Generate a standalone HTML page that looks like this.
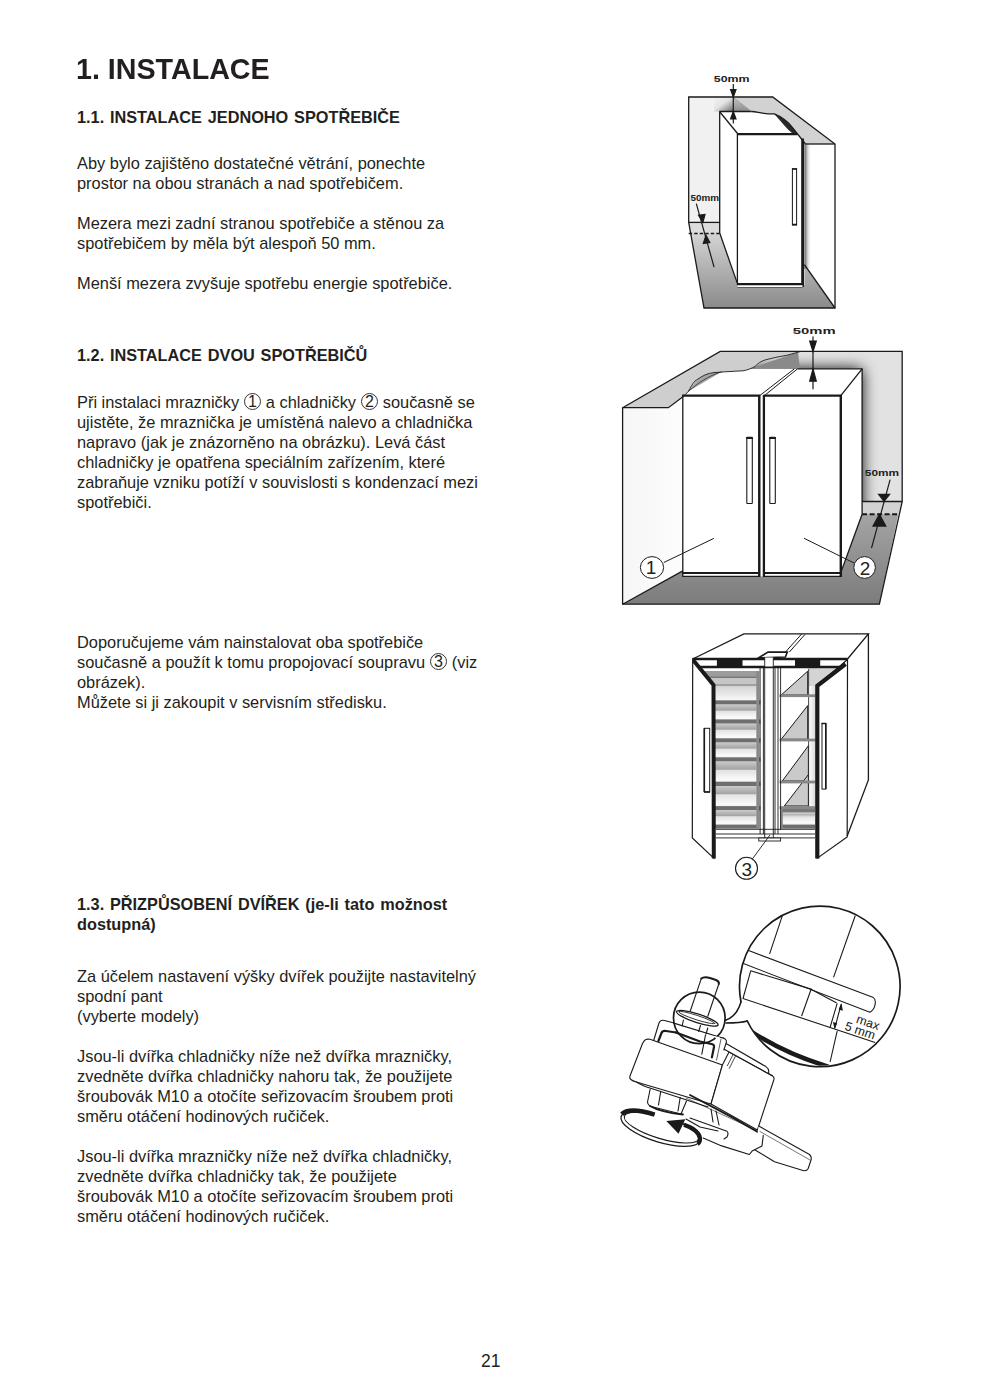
<!DOCTYPE html>
<html><head><meta charset="utf-8">
<style>
html,body{margin:0;padding:0;background:#fff;}
body{width:984px;height:1389px;position:relative;overflow:hidden;font-family:"Liberation Sans",sans-serif;color:#231f20;}
.t{position:absolute;left:77px;white-space:nowrap;font-size:16.4px;line-height:20px;}
.h1{position:absolute;left:76px;white-space:nowrap;font-size:30px;font-weight:bold;line-height:36px;transform:scaleX(0.955);transform-origin:0 0;}
.h2{position:absolute;left:77px;white-space:nowrap;font-size:16.3px;word-spacing:1.3px;font-weight:bold;line-height:20px;}
.c{font-size:16px;display:inline-block;width:17.6px;height:17.6px;border:1px solid #333;border-radius:50%;box-sizing:border-box;text-align:center;line-height:16.9px;vertical-align:baseline;position:relative;top:-1.5px;}
svg{position:absolute;}
</style></head><body>
<div class="h1" style="top:51px">1. INSTALACE</div>
<div class="h2" style="top:106.8px">1.1. INSTALACE JEDNOHO SPOTŘEBIČE</div>
<div class="t" style="top:153px">Aby bylo zajištěno dostatečné větrání, ponechte<br>prostor na obou stranách a nad spotřebičem.<br><br>Mezera mezi zadní stranou spotřebiče a stěnou za<br>spotřebičem by měla být alespoň 50 mm.<br><br>Menší mezera zvyšuje spotřebu energie spotřebiče.</div>
<div class="h2" style="top:344.8px">1.2. INSTALACE DVOU SPOTŘEBIČŮ</div>
<div class="t" style="top:392px">Při instalaci mrazničky <span class="c">1</span> a chladničky <span class="c">2</span> současně se<br>ujistěte, že mraznička je umístěná nalevo a chladnička<br>napravo (jak je znázorněno na obrázku). Levá část<br>chladničky je opatřena speciálním zařízením, které<br>zabraňuje vzniku potíží v souvislosti s kondenzací mezi<br>spotřebiči.</div>
<div class="t" style="top:632px">Doporučujeme vám nainstalovat oba spotřebiče<br>současně a použít k tomu propojovací soupravu <span class="c">3</span> (viz<br>obrázek).<br>Můžete si ji zakoupit v servisním středisku.</div>
<div class="h2" style="top:893.8px">1.3. PŘIZPŮSOBENÍ DVÍŘEK (je-li tato možnost<br>dostupná)</div>
<div class="t" style="top:966px">Za účelem nastavení výšky dvířek použijte nastavitelný<br>spodní pant<br>(vyberte modely)<br><br>Jsou-li dvířka chladničky níže než dvířka mrazničky,<br>zvedněte dvířka chladničky nahoru tak, že použijete<br>šroubovák M10 a otočíte seřizovacím šroubem proti<br>směru otáčení hodinových ručiček.<br><br>Jsou-li dvířka mrazničky níže než dvířka chladničky,<br>zvedněte dvířka chladničky tak, že použijete<br>šroubovák M10 a otočíte seřizovacím šroubem proti<br>směru otáčení hodinových ručiček.</div>
<div class="t" style="left:481px;top:1350.8px;font-size:17.5px;">21</div>
<svg id="art" style="left:0;top:0" width="984" height="1389" viewBox="0 0 984 1389">
<!-- illustration 1 -->
<defs>
<linearGradient id="fl1" x1="0" y1="0" x2="0" y2="1"><stop offset="0" stop-color="#d4d4d4"/><stop offset="1" stop-color="#8a8a8a"/></linearGradient>
<linearGradient id="sh1" x1="0" y1="0" x2="1" y2="0"><stop offset="0" stop-color="#555"/><stop offset="1" stop-color="#fff" stop-opacity="0"/></linearGradient>
<linearGradient id="cs1" x1="0" y1="0" x2="1" y2="1"><stop offset="0" stop-color="#f2f2f2"/><stop offset="0.45" stop-color="#e4e4e4"/><stop offset="1" stop-color="#6a6a6a"/></linearGradient>
<linearGradient id="cs1b" x1="0" y1="0" x2="0" y2="1"><stop offset="0" stop-color="#c4c4c4"/><stop offset="1" stop-color="#8c8c8c"/></linearGradient>
</defs>
<polygon points="688.7,97 720,97 720,222.4 688.7,222.4" fill="#f1f1f1"/>
<polygon points="714,97.5 733.4,97.5 733.4,111.5 714,111.5" fill="url(#cs1)"/>
<polygon points="733.4,97.5 751.5,111.5 733.4,111.5" fill="url(#cs1b)"/>
<polygon points="734,97.5 772.7,97 835,144 805.5,144 797.2,133.1 792.3,127.3 786,120 774.3,113.9 762,113 751.5,111.5" fill="#d2d2d2"/>
<path d="M774.3,113.9 C782,117 788,122 792.3,127.3 L797.2,133.4 L792.5,133.4 C786.5,128.5 781,121.5 774.3,113.9 Z" fill="#2a2a2a"/>
<polygon points="688.7,222.4 720,222.4 720,233.5 690.6,233.5" fill="#dcdcdc"/>
<polygon points="690.6,233.5 720,233.5 737.2,285 804.4,285 804.4,264.7 835,308 704,308" fill="url(#fl1)"/>
<rect x="804.4" y="144" width="7" height="125" fill="url(#sh1)"/>
<g fill="none" stroke="#1a1a1a" stroke-width="1.3">
<path d="M688.7,97 L772.7,97 L835,144 L835,308 L704,308 L688.7,222.4 Z"/>
<path d="M688.7,222.4 L720,222.4"/>
<path d="M688.7,233.5 L720,233.5" stroke-dasharray="3.5,2"/>
<path d="M719.7,111.5 L719.7,233 L737.2,283"/>
<path d="M719.5,111.5 L737.5,133.5"/>
<path d="M719.5,111.5 L751.5,111.5 C758,112 763,114 774.3,113.9 C782,117 788,122 792.3,127.3 L805.5,144"/>
<path d="M734,98 L751.5,111.5" stroke-width="0.6" stroke="#777"/>
<path d="M805.5,144 L835,144"/>
<path d="M804.4,264.7 L835,308"/>
<path d="M737.4,134 L737.4,285"/>
<path d="M737.5,287 L802.5,287" stroke-width="1"/>
<rect x="792.4" y="168.8" width="4.2" height="56" stroke-width="1"/>
</g>
<path d="M737,134.2 L797.5,134.2" stroke="#1a1a1a" stroke-width="2.2"/>
<path d="M802.6,138.5 L802.6,287" stroke="#1a1a1a" stroke-width="2.8"/>
<rect x="737.5" y="285" width="65" height="2" fill="#fff"/>
<path d="M737,284.2 L804,284.2" stroke="#1a1a1a" stroke-width="2.2"/>
<path d="M792,169 L797,169 M792,224.6 L797,224.6" stroke="#1a1a1a" stroke-width="1.6"/>
<!-- arrows -->
<g stroke="#1a1a1a" stroke-width="1.2" fill="#1a1a1a">
<path d="M733.3,84 L733.3,123.5" fill="none"/>
<path d="M733.3,97 L730.6,89.5 L736,89.5 Z"/>
<path d="M733.3,111.5 L730.6,119 L736,119 Z"/>
<path d="M696.3,203.7 L714.1,267.2" fill="none"/>
<path d="M702.9,222.2 L698.5,215.3 L705,214.5 Z"/>
<path d="M706,235.2 L709.8,242.6 L703.3,243.6 Z"/>
</g>
<g font-family="Liberation Sans" font-weight="bold" fill="#222" font-size="8.6">
<text x="713.8" y="82.2" textLength="35.8" lengthAdjust="spacingAndGlyphs">50mm</text>
<text x="690.6" y="201.2" textLength="28.5" lengthAdjust="spacingAndGlyphs">50mm</text>
</g>

<!-- illustration 2 -->
<defs>
<linearGradient id="fl2" x1="0" y1="0" x2="0" y2="1"><stop offset="0" stop-color="#a4a4a4"/><stop offset="1" stop-color="#7c7c7c"/></linearGradient>
<linearGradient id="bw2" x1="0" y1="0" x2="1" y2="0"><stop offset="0" stop-color="#6e6e6e"/><stop offset="0.45" stop-color="#d8d8d8"/><stop offset="1" stop-color="#ececec"/></linearGradient>
<linearGradient id="tw2" x1="0" y1="0" x2="0" y2="1"><stop offset="0" stop-color="#dedede"/><stop offset="1" stop-color="#8a8a8a"/></linearGradient>
<linearGradient id="lw2" x1="0" y1="0" x2="1" y2="0"><stop offset="0" stop-color="#f6f6f6"/><stop offset="1" stop-color="#fdfdfd"/></linearGradient>
</defs>
<polygon points="622.6,407.7 683,407.7 683,571 622.6,604.2" fill="url(#lw2)"/>
<clipPath id="bwc2"><polygon points="740,351.4 902.2,351.4 902.2,501.5 862.1,501.5 862.1,368.8 740,368.8"/></clipPath>
<filter id="bl6" x="-50%" y="-50%" width="200%" height="200%"><feGaussianBlur stdDeviation="7.5"/></filter>
<g clip-path="url(#bwc2)"><rect x="740" y="351.4" width="163" height="151" fill="#e2e2e2"/><rect x="700" y="369" width="162" height="200" fill="#000" filter="url(#bl6)"/></g>
<polygon points="750,368.8 798,352 800,368.8" fill="#8a8a8a"/>
<polygon points="622.6,407.7 720.2,351.4 800.7,351.4 786.5,355.4 764.4,360.2 755,366.5 749.1,369.5 743,370.8 724.8,371.8 714,372.6 706.5,374.1 697.3,379.5 688.2,391.6 683.6,396.2 668.4,407.7" fill="#cecece"/>
<polygon points="688.2,391.6 697.3,379.5 706.5,374.1 714,372.6 721.7,371.8" fill="#a6a6a6"/>
<polygon points="862.1,501.5 902.2,501.5 898.3,514.3 862.1,514.3" fill="#d2d2d2"/>
<polygon points="622.6,604.2 682.8,570.9 682.8,576.3 840.8,576.3 840.8,572.6 862.1,514.3 898.3,514.3 879.4,604.2" fill="url(#fl2)"/>
<rect x="683" y="573" width="158" height="3.3" fill="#fff"/>
<g fill="none" stroke="#1a1a1a" stroke-width="1.3">
<path d="M622.6,407.7 L720.2,351.4 L902.2,351.4 L902.2,501.5 L879.4,604.2 L622.6,604.2 Z"/>
<path d="M622.6,407.7 L668.4,407.7 L683.6,396.2"/>
<path d="M683.6,396.2 L688.2,391.6 C692,385 694,381 697.3,379.5 C702,376 708,373 714,372.6 L724.8,371.8 C732,371.5 738,371 743,370.8 C748,370 752,368 755,366.5 C758,363 761,361.5 764.4,360.2 C772,358 780,356.5 786.5,355.4 C792,354 797,352.5 800.7,351.4" stroke-width="0.9"/>
<path d="M688.2,391.6 C698,383 708,376 721.7,371.8" stroke-width="0.7"/>
<path d="M797.5,368.8 L862.1,368.8 L862.1,514.3 L840.8,572.6"/>
<path d="M840.8,395.6 L862.1,368.8"/>
<path d="M759.7,395.6 L794.4,368.8 M764.4,395.6 L797.5,368.8" stroke-width="1"/>
<path d="M862.1,501.5 L902.2,501.5"/>
<path d="M862.1,514.3 L898.3,514.3" stroke-dasharray="5,2.5" stroke-width="2"/>
<path d="M622.6,604.2 L682.8,570.9"/>
<path d="M682.8,395.6 L682.8,576.3 L759.2,576.3 L759.2,395.6"/>
<path d="M764.4,395.6 L764.4,576.3 L840.8,576.3 L840.8,395.6"/>
<rect x="746.8" y="437.3" width="5.5" height="66.2" stroke-width="1.1" rx="0.6"/>
<rect x="769.8" y="437.3" width="5.5" height="66.2" stroke-width="1.1" rx="0.6"/>
</g>
<path d="M682,395.6 L760,395.6 M763.6,395.6 L841.6,395.6 M682,573 L760,573 M763.6,573 L841.6,573" stroke="#1a1a1a" stroke-width="2.2"/>
<path d="M759.3,395 L759.3,577 M840.8,395 L840.8,577" stroke="#1a1a1a" stroke-width="2.4"/>
<path d="M763.8,395 L763.8,577" stroke="#1a1a1a" stroke-width="2.1"/>
<path d="M746.2,438 L752.8,438 M769.2,438 L775.8,438" stroke="#1a1a1a" stroke-width="2"/>
<!-- callouts -->
<g stroke="#1a1a1a" stroke-width="1" fill="#fff">
<path d="M663.8,562.5 L713.8,538.4" fill="none"/>
<path d="M804.1,538.3 L854.2,563.1" fill="none"/>
<ellipse cx="652" cy="567.5" rx="11.6" ry="10.9"/>
<ellipse cx="864.6" cy="567.5" rx="10.8" ry="10.9"/>
</g>
<g font-family="Liberation Sans" fill="#222" font-size="19" text-anchor="middle">
<text x="651" y="573.8">1</text>
<text x="865.1" y="574.6">2</text>
</g>
<!-- arrows -->
<g stroke="#1a1a1a" stroke-width="1.2" fill="#1a1a1a">
<path d="M813,336.5 L813,389.3" fill="none"/>
<path d="M813,351.5 L809.7,341 L816.3,341 Z"/>
<path d="M813,368.8 L809.7,381.2 L816.3,381.2 Z"/>
<path d="M890.1,479.7 L871.5,548.2" fill="none"/>
<path d="M884.1,501.3 L878.6,494.3 L889.6,494.3 Z"/>
<path d="M879.4,514.3 L873,526.1 L885.8,526.1 Z"/>
</g>
<g font-family="Liberation Sans" font-weight="bold" fill="#222" font-size="9.8">
<text x="792.8" y="334.2" textLength="42.8" lengthAdjust="spacingAndGlyphs">50mm</text>
<text x="864.8" y="476.2" textLength="34.3" lengthAdjust="spacingAndGlyphs">50mm</text>
</g>

<!-- illustration 3 -->
<defs>
<linearGradient id="dr3" x1="0" y1="0" x2="0" y2="1">
<stop offset="0" stop-color="#777"/><stop offset="0.16" stop-color="#777"/><stop offset="0.2" stop-color="#d4d4d4"/><stop offset="0.3" stop-color="#b4b4b4"/><stop offset="0.42" stop-color="#e4e4e4"/><stop offset="0.7" stop-color="#fafafa"/><stop offset="1" stop-color="#dcdcdc"/>
</linearGradient>
<linearGradient id="dg3" x1="0" y1="0" x2="0" y2="1"><stop offset="0" stop-color="#cacaca"/><stop offset="0.38" stop-color="#a4a4a4"/><stop offset="0.44" stop-color="#e2e2e2"/><stop offset="0.9" stop-color="#fbfbfb"/><stop offset="1" stop-color="#f0f0f0"/></linearGradient>
<linearGradient id="lg3" x1="0" y1="0" x2="0" y2="1"><stop offset="0" stop-color="#d6d6d6"/><stop offset="1" stop-color="#f8f8f8"/></linearGradient>
<linearGradient id="tp3" x1="0" y1="0" x2="0" y2="1"><stop offset="0" stop-color="#a8a8a8"/><stop offset="1" stop-color="#8c8c8c"/></linearGradient>
<linearGradient id="rs3" x1="0" y1="0" x2="1" y2="0"><stop offset="0" stop-color="#fff"/><stop offset="1" stop-color="#d8d8d8"/></linearGradient>
</defs>
<polygon points="692.7,659 743.9,633.8 868.4,633.8 868.4,780 847.2,836 847.2,659" fill="#fff"/>
<rect x="700" y="668.3" width="59.4" height="166" fill="#fff"/>
<rect x="700" y="671" width="57" height="5.2" fill="#9c9c9c"/>
<rect x="700" y="676.2" width="57" height="1.8" fill="#777"/>
<rect x="700" y="678" width="57" height="6" fill="#c6c6c6"/>
<rect x="700" y="684" width="57" height="2.5" fill="#a0a0a0"/>
<rect x="700" y="686.5" width="57" height="13.8" fill="url(#lg3)"/>
<rect x="715" y="700.3" width="45.5" height="4.3" fill="#6e6e6e"/>
<rect x="715" y="704.6" width="41.5" height="14.8" fill="url(#dg3)"/>
<rect x="715" y="719.4" width="45.5" height="4.3" fill="#6e6e6e"/>
<rect x="715" y="723.7" width="41.5" height="14.6" fill="url(#dg3)"/>
<rect x="715" y="738.3" width="45.5" height="4.3" fill="#6e6e6e"/>
<rect x="715" y="742.6" width="41.5" height="14.7" fill="url(#dg3)"/>
<rect x="715" y="757.3" width="45.5" height="4.3" fill="#6e6e6e"/>
<rect x="715" y="761.6" width="41.5" height="20.1" fill="url(#dg3)"/>
<rect x="715" y="781.7" width="45.5" height="4.3" fill="#6e6e6e"/>
<rect x="715" y="786.0" width="41.5" height="20.1" fill="url(#dg3)"/>
<rect x="715" y="806.1" width="45.5" height="4.3" fill="#6e6e6e"/>
<rect x="715" y="810.4" width="41.5" height="14.2" fill="url(#dg3)"/>
<rect x="715" y="824.6" width="44" height="4" fill="#6e6e6e"/>
<rect x="756.3" y="671" width="3.1" height="157" fill="#8a8a8a"/>
<rect x="808.6" y="668.3" width="7" height="140" fill="url(#rs3)"/>
<polygon points="808.6,668.3 842,668.3 817,686 808.6,686" fill="#d4d4d4"/>
<g fill="#cacaca" stroke="#1a1a1a" stroke-width="1">
<path d="M781.2,695 L807.7,671.2 L807.7,695 Z"/>
<path d="M781.2,739.3 L807.7,705.6 L807.7,739.3 Z"/>
<path d="M782.3,781 L808.4,745.7 L808.4,781 Z"/>
<path d="M784.3,806 L808.4,774.6 L808.4,806 Z"/>
</g>
<path d="M808.6,669 L808.6,807" stroke="#333" stroke-width="0.9"/>
<g fill="#888"><rect x="779.5" y="694.3" width="36" height="2.8"/><rect x="779.5" y="738.6" width="36" height="2.8"/><rect x="779.5" y="780.6" width="36" height="2.8"/><rect x="779.5" y="806.2" width="36" height="2.8"/></g>
<rect x="780.6" y="809" width="34.5" height="19" fill="url(#dr3)"/>
<rect x="780.6" y="824.6" width="34.5" height="4" fill="#6e6e6e"/>
<rect x="780.6" y="808" width="2.2" height="20" fill="#888"/>

<g stroke="#1a1a1a" stroke-width="0.9" fill="none">
<path d="M760.1,668 L760.1,834 M763.4,668 L763.4,834 M764.7,659 L764.7,838 M773.3,659 L773.3,838 M775,668 L775,834 M778,668 L778,834 M780.6,668 L780.6,830"/>
<path d="M715.9,829.3 L815,829.3 M715.9,834 L815,834 M715.9,837.9 L815,837.9"/>
</g>
<rect x="758.8" y="838" width="21.8" height="3" fill="#fff" stroke="#1a1a1a" stroke-width="0.9"/>

<rect x="692.7" y="659" width="155" height="7" fill="#fff"/>
<rect x="716.9" y="659" width="25.6" height="7.5" fill="#1a1a1a"/>
<rect x="795" y="659" width="25.2" height="7.5" fill="#1a1a1a"/>
<path d="M692.7,659 L847.5,659" stroke="#1a1a1a" stroke-width="2.6"/>
<path d="M692.7,667 L847.5,667" stroke="#1a1a1a" stroke-width="2.4"/>

<polygon points="692.7,659.5 713.5,685 713.8,858.2 692.3,837.9" fill="#fff" stroke="#1a1a1a" stroke-width="1.2"/>
<path d="M693.5,660.5 L713.5,685 L713.8,858.5" fill="none" stroke="#1a1a1a" stroke-width="4"/>
<polygon points="847.5,659.5 817.3,685.8 817.3,858.2 847.2,837" fill="#fff" stroke="#1a1a1a" stroke-width="1.2"/>
<path d="M845.5,664 L817.3,685.8 L817.3,858.5" fill="none" stroke="#1a1a1a" stroke-width="4.2"/>
<rect x="704.3" y="728.3" width="5.4" height="63.6" fill="#fff" stroke="#1a1a1a" stroke-width="1"/>
<path d="M704.3,728.3 L704.3,792 M704,792 L710,792" stroke="#1a1a1a" stroke-width="1.6"/>
<rect x="822" y="723.5" width="3.8" height="65.6" fill="#fff" stroke="#1a1a1a" stroke-width="1"/>
<path d="M821.5,723.5 L826.3,723.5 M825.8,723.5 L825.8,789" stroke="#1a1a1a" stroke-width="1.6"/>

<g fill="none" stroke="#1a1a1a" stroke-width="1.3">
<path d="M692.7,659 L743.9,633.8 L868.4,633.8 L847.5,659"/>
<path d="M868.4,633.8 L868.4,780 L847.2,836"/>
<path d="M801.8,633.8 L785.4,652.1 M805,634.4 L789.3,652.1" stroke-width="1"/>
</g>
<polygon points="758.4,657.9 768,652.1 787.3,652.1 785.4,657" fill="#fff" stroke="#1a1a1a" stroke-width="1.6"/>
<rect x="764.7" y="657.5" width="8.6" height="9" fill="#fff"/>
<path d="M764.7,657.5 L764.7,668 M773.3,657.5 L773.3,668" stroke="#1a1a1a" stroke-width="0.9"/>

<path d="M752.4,858.9 L770,835" stroke="#1a1a1a" stroke-width="0.9"/>
<ellipse cx="746.5" cy="868.3" rx="11" ry="11" fill="#fff" stroke="#1a1a1a" stroke-width="1.1"/>
<text x="746.8" y="875.5" font-family="Liberation Sans" font-size="19" fill="#222" text-anchor="middle">3</text>

<!-- illustration 4 -->
<defs><clipPath id="bc4"><circle cx="819" cy="986.2" r="79.6"/></clipPath><clipPath id="ec4"><path clip-rule="evenodd" d="M600,1090 L720,1090 L720,1160 L600,1160 Z M653,1100 L692,1100 L686,1123.5 L655,1119 Z"/></clipPath></defs>
<g fill="none" stroke="#1a1a1a" stroke-width="1.1" stroke-linejoin="round" stroke-linecap="round">
<!-- big circle detail -->
<g clip-path="url(#bc4)">
<path d="M782.7,914.7 L769.7,953.6 M855.3,915.5 L833.7,976.9"/>
<path d="M747.3,950.1 L873.4,997.6 C876.5,999.5 876,1009 869.9,1012.3 L742.1,963.1" fill="#fff"/>
<path d="M750.7,970.8 L809.5,988.6 L836.3,1002.8 M750.7,970.8 L743,998.5 L875.1,1042.5"/>
<path d="M811.2,989 L801.7,1015.8 M837.1,1003.7 L830.2,1027"/>
<path d="M837.1,1031.3 L830.2,1061.5"/>
<path d="M752,1032 Q786,1054 828,1066.5" stroke-width="4.4"/>
</g>
<path d="M741,1002 A80.3,80.3 0 1 1 747.3,1021" stroke-width="1.7"/>
<path d="M741,1002 C738,1012 733,1018 725,1020.5 M747.3,1021 C742,1022.6 734,1023 726,1023" stroke-width="1.5"/>
<!-- double arrow -->
<path d="M841.1,1004.5 L834.8,1028"/>
</g>
<g fill="#1a1a1a"><path d="M841.4,1003.3 L838.6,1009.6 L842.9,1010.7 Z M834.5,1029 L833,1022.1 L837.3,1023.2 Z"/></g>
<g font-family="Liberation Sans" font-size="12.5" fill="#222">
<text transform="translate(855.5,1022.5) rotate(19)">max</text>
<text transform="translate(844,1029.5) rotate(19)">5 mm</text>
</g>
<g fill="none" stroke="#1a1a1a" stroke-width="1.1" stroke-linejoin="round" stroke-linecap="round">
<!-- bracket behind body -->
<path d="M653.5,1041 L659,1023 Q660.5,1019.5 664.5,1020.5 L676,1023.5" fill="#fff"/>
<path d="M722.8,1037.8 Q726,1039 725.8,1043 L724,1050"/>
<path d="M658.4,1041 L661.5,1033 Q662.5,1030.5 666,1031 L676,1032.5"  stroke-width="2.2"/>
<!-- small circle -->
<circle cx="699.3" cy="1017.9" r="25.8" fill="#fff" stroke-width="1.7"/>
<!-- pin -->
<path d="M701.1,979.1 L690.1,1011.5 M718.8,984 L707.8,1016.3"/>
<path d="M701.3,978.6 Q704,976.3 710,978 L716,980 Q719.5,981.5 718.8,984" stroke-width="2"/>
<ellipse cx="697.3" cy="1018.3" rx="21.8" ry="4.3" transform="rotate(18 697.3 1018.3)" fill="#fff" stroke-width="1.3"/>
<ellipse cx="696.8" cy="1017.6" rx="19" ry="2.2" transform="rotate(18 696.8 1017.6)" stroke-width="0.8"/>
<path d="M683.4,1020 L682.2,1026 M700.5,1025.5 L698.7,1031.5 M707.8,1028 L706,1034"/>
<path d="M673.8,1023.1 L720.1,1037.3"/>
<path d="M676,1032.5 L700,1041.5 L712.5,1044.3 Q714.3,1045 714,1047 L711.9,1057.4" stroke-width="2.2"/>
<path d="M705.5,1035 L701.8,1054.2"/>
<!-- body: front face -->
<path d="M644.4,1040.6 Q646,1038.5 650,1039.3 L722.4,1065 L711,1104 L636.3,1082 Q629,1080 629.8,1076.5 L642.5,1043.5 Z" fill="#fff"/>
<!-- right face with step -->
<path d="M722.4,1065 L729,1052 L772.3,1075.7 Q775,1077.5 773.6,1080.5 L757.4,1130 L711,1104 Z" fill="#fff"/>
<path d="M714,1036 L720.1,1037.3 Q726.5,1038.5 726.5,1041.5 L765.9,1066.6 Q769.5,1069 768.6,1073 L724.2,1049.2 Z" fill="#fff" stroke="none"/>
<path d="M720.1,1037.3 Q726.5,1038.5 726.5,1041.5 L724.2,1049.2 L772.3,1075.7 M726.5,1043.7 L765.9,1066.6 Q769.5,1069 768.6,1073"/>
<path d="M727.4,1065.7 L733,1054.7 M729.3,1068.4 L735.5,1056" stroke-width="0.8"/>
<path d="M721,1039.1 L716.5,1060.2" stroke-width="0.7"/>
<!-- underside plate & nut -->
<path d="M636.3,1082 Q645,1087 650,1088 L708,1107"/>
<path d="M650.2,1089 L647.5,1102 Q648,1106 653,1107 L681,1114 L686.5,1101 M660.7,1091.5 L658.5,1105 M680.2,1097.5 L678,1111"/>
<path d="M650,1106 Q660,1112 683,1114.5" stroke-width="1.8"/>
<path d="M690,1095 L733.6,1118.1 L763.3,1135.3" stroke-width="1.8"/>
<path d="M686,1098 L758.7,1131.3" stroke-width="0.6"/>
<path d="M711,1109 L713,1122 M716,1111 L719,1125"/>
<!-- arm -->
<path d="M758.7,1126 L809.5,1154.5 Q812,1157 811,1160 L808.2,1168.5 Q806.5,1171.5 803,1170.5 L774.5,1161.7 L754.7,1149.8" fill="#fff"/>
<path d="M760,1131.5 L810,1160" stroke-width="0.6"/>
<path d="M763.3,1135.3 L762,1145.9 L752.1,1151.1 L749.4,1154.5 L721.7,1145.9 L703.2,1138"/>
<path d="M690,1118.1 L727,1131.3 Q729,1133 727,1137 L724,1139"/>
<path d="M686,1119 L700,1127 L718,1131"/>
<!-- rotation ellipse -->
<g clip-path="url(#ec4)"><ellipse cx="660.6" cy="1128.6" rx="41.3" ry="13.6" transform="rotate(17 660.6 1128.6)" stroke-width="1.3"/>
<ellipse cx="661.5" cy="1127.6" rx="38.8" ry="11" transform="rotate(17 661.5 1127.6)" stroke-width="1.1"/></g>
<path d="M621.8,1114.2 Q629,1106.6 654.6,1114.6" stroke-width="4.6" stroke-linecap="butt"/>
<path d="M684,1124.8 Q699,1130 700,1138.5 Q700,1142.5 697.5,1144" stroke-width="4.2" stroke-linecap="butt"/>
</g>
<path d="M666.3,1121 L685.3,1119.3 L678.5,1133.7 Z" fill="#1a1a1a"/>

</svg>
</body></html>
